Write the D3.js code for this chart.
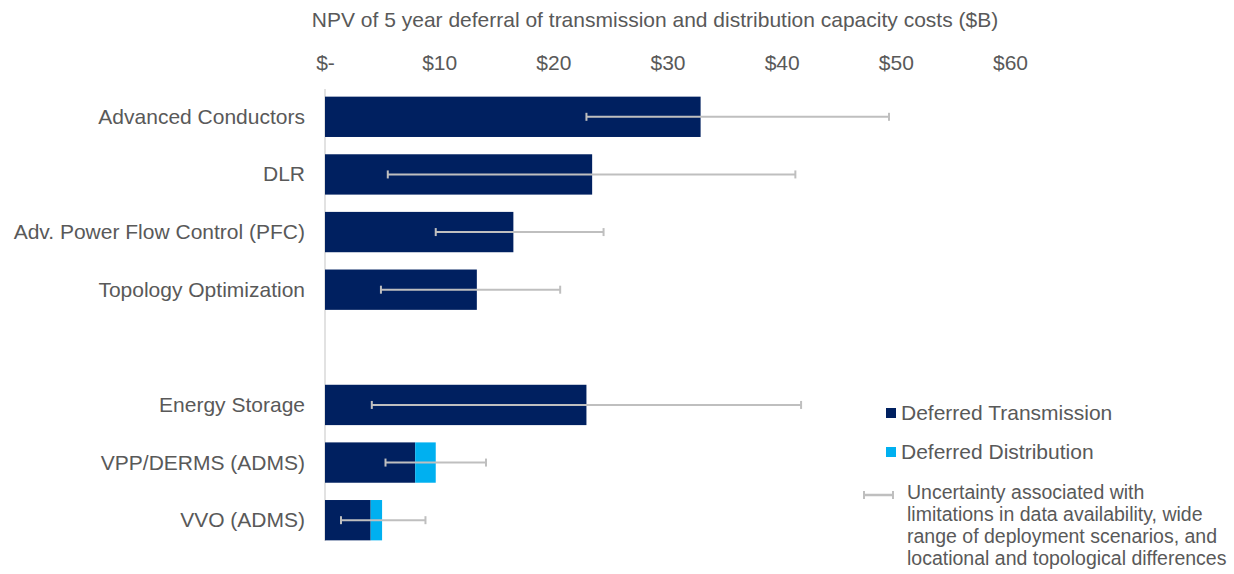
<!DOCTYPE html>
<html>
<head>
<meta charset="utf-8">
<script src="https://cdn.jsdelivr.net/npm/d3@7"></script>
<style>
  html, body { margin: 0; padding: 0; background: #fff; }
  svg { display: block; font-family: "Liberation Sans", Arial, sans-serif; }
</style>
</head>
<body>
<svg id="chart" width="1234" height="574"></svg>
<script>
const categories = ["Advanced Conductors", "DLR", "Adv. Power Flow Control (PFC)", "Topology Optimization", "", "Energy Storage", "VPP/DERMS (ADMS)", "VVO (ADMS)"];
const transmission = [32.9, 23.4, 16.5, 13.3, null, 22.9, 7.9, 4.0];
const distribution = [0, 0, 0, 0, null, 0, 1.8, 1.0];
const errLow = [22.9, 5.5, 9.7, 4.9, null, 4.1, 5.3, 1.4];
const errHigh = [49.4, 41.2, 24.4, 20.6, null, 41.7, 14.1, 8.8];
const tickValues = [0, 10, 20, 30, 40, 50, 60];
const tickLabels = ["$-", "$10", "$20", "$30", "$40", "$50", "$60"];
const seriesNames = ["Deferred Transmission", "Deferred Distribution"];
const errorLegendLines = ["Uncertainty associated with", "limitations in data availability, wide", "range of deployment scenarios, and", "locational and topological differences"];
const title = "NPV of 5 year deferral of transmission and distribution capacity costs ($B)";

const colors = { trans: "#002060", dist: "#00B0F0", err: "#BFBFBF", text: "#595959", axis: "#D9D9D9" };

const svg = d3.select("#chart");
const x = d3.scaleLinear().domain([0, 60]).range([325, 1010]);
const y = d3.scaleBand().domain(categories.map((c, i) => i)).range([88, 549]).paddingInner(0.3).paddingOuter(0.15);

// title
svg.append("text").attr("x", 655).attr("y", 27).attr("text-anchor", "middle")
  .attr("font-size", 21).attr("fill", colors.text).text(title);

// top axis
const axis = d3.axisTop(x).tickValues(tickValues).tickFormat((d, i) => tickLabels[i]).tickSize(0).tickPadding(0);
const ga = svg.append("g").attr("transform", "translate(0,70)").call(axis);
ga.select(".domain").remove();
ga.selectAll("text").attr("font-size", 21).attr("fill", colors.text).attr("font-family", "Liberation Sans, Arial, sans-serif");

// vertical category axis line
svg.append("line").attr("x1", x(0)).attr("x2", x(0)).attr("y1", 89).attr("y2", 541)
  .attr("stroke", colors.axis).attr("stroke-width", 1.5);

// category labels
svg.append("g").selectAll("text").data(categories).join("text")
  .attr("x", 305).attr("y", (d, i) => y(i) + y.bandwidth() / 2 + 7)
  .attr("text-anchor", "end").attr("font-size", 21).attr("fill", colors.text).text(d => d);

const idx = categories.map((c, i) => i).filter(i => transmission[i] !== null);

// transmission bars
svg.append("g").selectAll("rect").data(idx).join("rect")
  .attr("x", x(0)).attr("y", i => y(i)).attr("height", y.bandwidth())
  .attr("width", i => x(transmission[i]) - x(0)).attr("fill", colors.trans);

// distribution bars
svg.append("g").selectAll("rect").data(idx.filter(i => distribution[i] > 0)).join("rect")
  .attr("x", i => x(transmission[i])).attr("y", i => y(i)).attr("height", y.bandwidth())
  .attr("width", i => x(transmission[i] + distribution[i]) - x(transmission[i])).attr("fill", colors.dist);

// error bars
const ge = svg.append("g").attr("stroke", colors.err).attr("stroke-width", 2);
idx.forEach(i => {
  const cy = y(i) + y.bandwidth() / 2;
  ge.append("line").attr("x1", x(errLow[i])).attr("x2", x(errHigh[i])).attr("y1", cy).attr("y2", cy);
  ge.append("line").attr("x1", x(errLow[i])).attr("x2", x(errLow[i])).attr("y1", cy - 4).attr("y2", cy + 4);
  ge.append("line").attr("x1", x(errHigh[i])).attr("x2", x(errHigh[i])).attr("y1", cy - 4).attr("y2", cy + 4);
});

// legend
const lg = svg.append("g");
[colors.trans, colors.dist].forEach((c, k) => {
  const ly = 413 + k * 39;
  lg.append("rect").attr("x", 886).attr("y", ly - 5).attr("width", 10).attr("height", 10).attr("fill", c);
  lg.append("text").attr("x", 901).attr("y", ly + 7).attr("font-size", 21).attr("fill", colors.text).text(seriesNames[k]);
});
const ely = 495;
lg.append("line").attr("x1", 864).attr("x2", 893).attr("y1", ely).attr("y2", ely).attr("stroke", colors.err).attr("stroke-width", 2.5);
lg.append("line").attr("x1", 864).attr("x2", 864).attr("y1", ely - 4).attr("y2", ely + 4).attr("stroke", colors.err).attr("stroke-width", 2);
lg.append("line").attr("x1", 893).attr("x2", 893).attr("y1", ely - 4).attr("y2", ely + 4).attr("stroke", colors.err).attr("stroke-width", 2);
lg.selectAll("text.err").data(errorLegendLines).join("text").attr("class", "err")
  .attr("x", 907).attr("y", (d, i) => 499 + i * 22).attr("font-size", 19.5).attr("fill", colors.text).text(d => d);
</script>
</body>
</html>
